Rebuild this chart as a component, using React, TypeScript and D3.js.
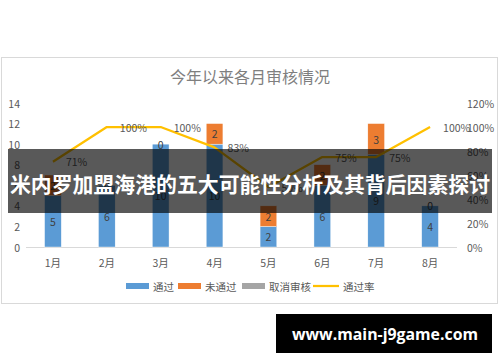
import React from 'react';
import * as d3 from 'd3';

const months = ['1月', '2月', '3月', '4月', '5月', '6月', '7月', '8月'];
const passed = [5, 6, 10, 10, 2, 6, 9, 4];
const failed = [2, 0, 0, 2, 2, 2, 3, 0];
const cancelled = [0, 0, 0, 0, 0, 0, 0, 0];
const passRate = [71, 100, 100, 83, 50, 75, 75, 100];
const leftTicks = [0, 2, 4, 6, 8, 10, 12, 14];
const rightTicks = [0, 20, 40, 60, 80, 100, 120];
const legendItems = ['通过', '未通过', '取消审核', '通过率'];

const title = '今年以来各月审核情况';
const bannerText = '米内罗加盟海港的五大可能性分析及其背后因素探讨';
const watermark = 'www.main-j9game.com';

const C_PASS = '#5b9bd5';
const C_FAIL = '#ed7d31';
const C_CANCEL = '#a5a5a5';
const C_RATE = '#ffc000';
const TXT = '#595959';
const FONT = '"Noto Sans CJK SC", "Liberation Sans", sans-serif';

export default function App() {
  const W = 500, H = 362;
  const x = d3.scaleBand<string>().domain(months).range([26, 457]).paddingInner(0.69).paddingOuter(0.345);
  const yL = d3.scaleLinear().domain([0, 14]).range([247, 103]);
  const yR = d3.scaleLinear().domain([0, 120]).range([247, 103]);
  const bw = x.bandwidth();
  const cx = (m: string) => (x(m) as number) + bw / 2;
  const line = d3.line<number>().x((_, i) => cx(months[i])).y(d => yR(d));

  const legendX = [126, 178, 242, 313];
  const legendColors = [C_PASS, C_FAIL, C_CANCEL, C_RATE];

  return (
    <svg width={W} height={H} style={{ position: 'absolute', left: 0, top: 0, fontFamily: FONT }}>
      <rect x={0} y={0} width={W} height={H} fill="#fff" />
      <rect x={1.5} y={57.5} width={496} height={246} fill="#fff" stroke="#d9d9d9" strokeWidth={1} />
      <text x={250} y={76} textAnchor="middle" dominantBaseline="central" fontSize={16} fill="#7f7f7f">{title}</text>

      {leftTicks.map(t => (
        <text key={'l' + t} x={20} y={yL(t)} textAnchor="end" dominantBaseline="central" fontSize={10.5} fill={TXT}>{t}</text>
      ))}
      {rightTicks.map(t => (
        <text key={'r' + t} x={467} y={yR(t)} textAnchor="start" dominantBaseline="central" fontSize={10.5} fill={TXT}>{t}%</text>
      ))}
      <line x1={26} x2={457} y1={yL(0) + 0.5} y2={yL(0) + 0.5} stroke="#d9d9d9" strokeWidth={1} />

      {months.map((m, i) => {
        const p = passed[i], f = failed[i], c = cancelled[i];
        return (
          <g key={m}>
            <rect x={x(m)} y={yL(p)} width={bw} height={yL(0) - yL(p)} fill={C_PASS} stroke="#fff" strokeWidth={0.4} />
            <rect x={x(m)} y={yL(p + f)} width={bw} height={yL(p) - yL(p + f)} fill={C_FAIL} stroke="#fff" strokeWidth={0.4} />
            <rect x={x(m)} y={yL(p + f + c)} width={bw} height={yL(p + f) - yL(p + f + c)} fill={C_CANCEL} />
            <text x={cx(m)} y={yL(p / 2)} textAnchor="middle" dominantBaseline="central" fontSize={10.5} fill="#404040">{p}</text>
            <text x={cx(m)} y={yL(p + f / 2)} textAnchor="middle" dominantBaseline="central" fontSize={10.5} fill="#404040">{f}</text>
            <text x={cx(m)} y={262} textAnchor="middle" dominantBaseline="central" fontSize={10.5} fill={TXT}>{m}</text>
          </g>
        );
      })}

      <path d={line(passRate) || ''} fill="none" stroke={C_RATE} strokeWidth={2.25} strokeLinejoin="round" />
      {passRate.map((r, i) => (
        <text key={'pr' + i} x={cx(months[i]) + 13} y={yR(r)} textAnchor="start" dominantBaseline="central" fontSize={10.5} fill={TXT}>{r}%</text>
      ))}

      {legendItems.map((name, i) => (
        <g key={name}>
          {i < 3 ? (
            <rect x={legendX[i]} y={283} width={23} height={6} fill={legendColors[i]} />
          ) : (
            <line x1={legendX[i]} x2={legendX[i] + 26} y1={286} y2={286} stroke={legendColors[i]} strokeWidth={2.25} />
          )}
          <text x={legendX[i] + (i < 3 ? 27 : 30)} y={286} dominantBaseline="central" fontSize={10.5} fill={TXT}>{name}</text>
        </g>
      ))}

      <rect x={8} y={149} width={484} height={64} fill="rgba(0,0,0,0.65)" />
      <text x={250} y={183} textAnchor="middle" dominantBaseline="central" fontSize={21} fontWeight="bold" fill="#fff" textLength={480} lengthAdjust="spacingAndGlyphs">{bannerText}</text>

      <rect x={276} y={314} width={216} height={39} fill="#000" />
      <text x={385} y={334} textAnchor="middle" dominantBaseline="central" fontSize={16} fontWeight="bold" fill="#fff" fontFamily='"Open Sans", sans-serif' textLength={186} lengthAdjust="spacingAndGlyphs">{watermark}</text>
    </svg>
  );
}
